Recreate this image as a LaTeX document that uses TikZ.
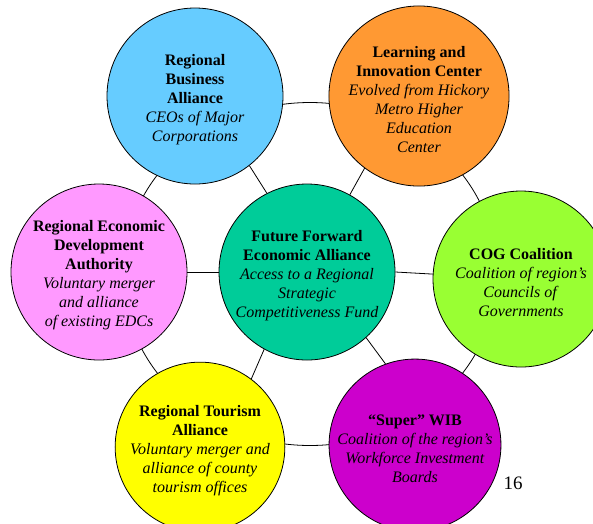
\documentclass[tikz,border=0pt]{standalone}
\usepackage{fontspec}
\setmainfont{Liberation Serif}
\usepackage{xcolor}
\usetikzlibrary{backgrounds}

\definecolor{skyblue}{HTML}{66CCFF}
\definecolor{orangefill}{HTML}{FF9933}
\definecolor{pinkfill}{HTML}{FF99FF}
\definecolor{seagreen}{HTML}{00CC99}
\definecolor{limefill}{HTML}{99FF33}
\definecolor{yellowfill}{HTML}{FFFF00}
\definecolor{magentafill}{HTML}{CC00CC}

% first line carries a strut to sit the text a little lower
\newcommand{\hdtop}[1]{\rule{0pt}{17.5pt}\textbf{#1}}
\newcommand{\hd}[1]{\textbf{#1}}
\newcommand{\sub}[1]{\textit{#1}}

\begin{document}
\begin{tikzpicture}[x=1pt,y=-1pt,
    org/.style={circle, draw, line width=0.8pt, inner sep=0pt,
        minimum size=176pt, align=center,
        font=\fontsize{16}{19}\selectfont},
    orgsmall/.style={org, minimum size=168pt},
    link/.style={line width=0.8pt}]

    \useasboundingbox (0,0) rectangle (593,523);
    \clip (0,0) rectangle (593,523);

    % Centre
    \node[org, fill=seagreen] (FFEA) at (307,272)
        {\hdtop{Future Forward}\\\hd{Economic Alliance}\\\sub{Access to a Regional}\\\sub{Strategic}\\\sub{Competitiveness Fund}};

    % Outer circles
    \node[org, fill=skyblue] (RBA) at (195,96)
        {\hdtop{Regional}\\\hd{Business}\\\hd{Alliance}\\\sub{CEOs of Major}\\\sub{Corporations}};
    \node[org, fill=orangefill] (LIC) at (419,96)
        {\hdtop{Learning and}\\\hd{Innovation Center}\\\sub{Evolved from Hickory}\\\sub{Metro Higher}\\\sub{Education}\\\sub{Center}};
    \node[org, fill=pinkfill] (REDA) at (99,272)
        {\hdtop{Regional Economic}\\\hd{Development}\\\hd{Authority}\\\sub{Voluntary merger}\\\sub{and alliance}\\\sub{of existing EDCs}};
    \node[org, fill=limefill] (COG) at (521,279)
        {\hdtop{COG Coalition}\\\sub{Coalition of region’s}\\\sub{Councils of}\\\sub{Governments}};
    \node[orgsmall, fill=yellowfill] (RTA) at (200,447)
        {\hdtop{Regional Tourism}\\\hd{Alliance}\\\sub{Voluntary merger and}\\\sub{alliance of county}\\\sub{tourism offices}};
    \node[orgsmall, fill=magentafill] (WIB) at (415,445)
        {\hdtop{“Super” WIB}\\\sub{Coalition of the region’s}\\\sub{Workforce Investment}\\\sub{Boards}};

    % Page number
    \node[font=\fontsize{19}{22}\selectfont] (pg) at (513,483) {16};

    % Ring and spokes behind the circles
    \begin{scope}[on background layer]
        \draw[link] ([shift={(3,2)}]FFEA.center) ellipse [x radius=187, y radius=171.5];
        \draw[link] (FFEA.117) -- (RBA.308);
        \draw[link] (FFEA.61) -- (LIC.233);
        \draw[link] (FFEA.west) -- (REDA.east);
        \draw[link] (FFEA.east) -- (COG);
        \draw[link] (FFEA.241) -- (RTA.53);
        \draw[link] (FFEA.312) -- (WIB.110);
    \end{scope}
\end{tikzpicture}
\end{document}
